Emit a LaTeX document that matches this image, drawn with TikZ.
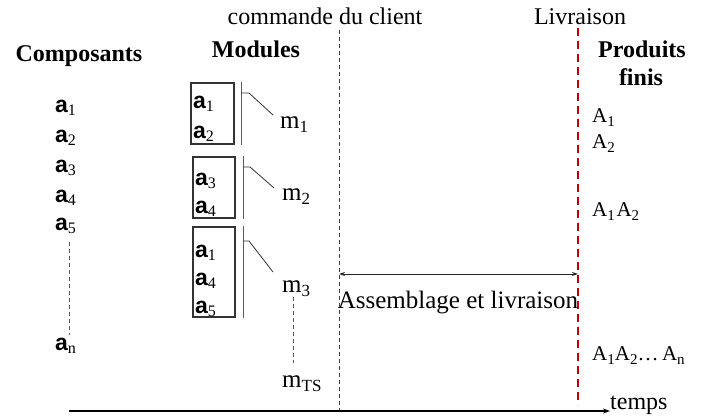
\documentclass[tikz,border=0pt]{standalone}
\usepackage{fontspec}
\setmainfont{Liberation Serif}
\setsansfont{Liberation Sans}
\usetikzlibrary{arrows.meta}

\newcommand{\compA}[1]{{\fontsize{23}{23}\selectfont\sffamily\bfseries a}\raisebox{-3.5pt}{\fontsize{16}{16}\selectfont\rmfamily\mdseries #1}}
\newcommand{\modM}[1]{{\fontsize{25}{25}\selectfont m}\raisebox{-4pt}{\fontsize{17}{17}\selectfont #1}}
\newcommand{\prodA}[1]{{\fontsize{21}{21}\selectfont A}\raisebox{-4pt}{\fontsize{15}{15}\selectfont #1}}

\begin{document}
\begin{tikzpicture}[x=1pt,y=-1pt,
  lbl/.style={inner sep=0pt, anchor=base west},
  ttl/.style={inner sep=0pt, anchor=base, font=\fontsize{24}{24}\selectfont},
  hd/.style={inner sep=0pt, anchor=base, font=\fontsize{24}{24}\selectfont\bfseries},
  modbox/.style={draw=black!80, line width=1.1pt, inner sep=0pt},
  vbar/.style={draw=black!65, line width=1.8pt},
  brk/.style={draw=black!80, line width=0.8pt},
  blackdash/.style={draw=black!75, line width=0.9pt, dash pattern=on 4pt off 3pt},
  reddash/.style={draw=red!75!black, line width=2.2pt, dash pattern=on 8pt off 5pt},
  thindash/.style={draw=black!65, line width=0.8pt, dash pattern=on 4pt off 3pt},
  dblarrow/.style={draw=black!85, line width=1pt, {Stealth[length=6pt,width=4pt]}-{Stealth[length=6pt,width=4pt]}},
  timearrow/.style={draw=black, line width=1.8pt, -{Stealth[length=7pt,width=5pt]}}
]
\useasboundingbox (0,0) rectangle (704,420);

% titles
\node[ttl] (cmd) at (325,25) {commande du client};
\node[ttl] (liv) at (580,25) {Livraison};
\node[hd] (comp) at (79,62) {Composants};
\node[hd] (mods) at (256,58) {Modules};
\node[hd] (prod) at (642,58) {Produits};
\node[hd] (finis) at (641,85) {finis};

% vertical time markers
\coordinate (cmdtop) at (339,30);
\coordinate (cmdbot) at (339,412);
\coordinate (livtop) at (578,28);
\coordinate (livbot) at (578,405);
\draw[blackdash] (cmdtop) -- (cmdbot);
\draw[reddash] (livtop) -- (livbot);

% components
\node[lbl] (a1) at (55,112) {\compA{1}};
\node[lbl] (a2) at (55,142) {\compA{2}};
\node[lbl] (a3) at (55,172) {\compA{3}};
\node[lbl] (a4) at (55,202) {\compA{4}};
\node[lbl] (a5) at (55,230) {\compA{5}};
\node[lbl] (an) at (55,350) {\compA{n}};
\coordinate (adtop) at (69,242);
\coordinate (adbot) at (69,335);
\draw[thindash] (adtop) -- (adbot);

% module boxes
\node[modbox, minimum width=43pt, minimum height=61pt] (b1) at (212.5,113.5) {};
\node[modbox, minimum width=42pt, minimum height=61pt] (b2) at (214,187.5) {};
\node[modbox, minimum width=42pt, minimum height=90pt] (b3) at (214,272) {};

\node[lbl] (b1a1) at (193,108) {\compA{1}};
\node[lbl] (b1a2) at (193,138) {\compA{2}};
\node[lbl] (b2a3) at (195,185) {\compA{3}};
\node[lbl] (b2a4) at (195,213) {\compA{4}};
\node[lbl] (b3a1) at (195,257) {\compA{1}};
\node[lbl] (b3a4) at (195,285) {\compA{4}};
\node[lbl] (b3a5) at (195,313) {\compA{5}};

\draw[vbar] ([xshift=7pt]b1.north east) -- ([xshift=7pt]b1.south east);
\draw[vbar] ([xshift=8pt]b2.north east) -- ([xshift=8pt]b2.south east);
\draw[vbar] ([xshift=8pt]b3.north east) -- ([xshift=8pt]b3.south east);

% module labels
\node[lbl] (m1) at (280,128) {\modM{1}};
\node[lbl] (m2) at (282,200) {\modM{2}};
\node[lbl] (m3) at (282,292) {\modM{3}};
\node[lbl] (mts) at (282,387) {\modM{TS}};

\draw[brk] (241,93) -- (249,93) -- (273,115);
\draw[brk] (243,167) -- (250,167) -- (274,188);
\draw[brk] (243,241) -- (249,241) -- (273,272);

\coordinate (mdtop) at (293,297);
\coordinate (mdbot) at (293,363);
\draw[thindash] (mdtop) -- (mdbot);

% assembly
\coordinate (asL) at (339,274);
\coordinate (asR) at (578,274);
\draw[dblarrow] (asL) -- (asR);
\node[ttl, font=\fontsize{25}{25}\selectfont] (asm) at (458,308) {Assemblage et livraison};

% finished products
\node[lbl] (p1) at (592,122) {\prodA{1}};
\node[lbl] (p2) at (592,148) {\prodA{2}};
\node[lbl] (p12) at (592,216) {\prodA{1}\,\prodA{2}};
\node[lbl] (pn) at (592,360) {\prodA{1}\prodA{2}{\fontsize{21}{21}\selectfont\dots\,}\prodA{n}};

% time axis
\node[lbl, font=\fontsize{24}{24}\selectfont] (temps) at (610,409) {temps};
\coordinate (axstart) at (69,411);
\draw[timearrow] (axstart) -- (axstart -| temps.west);
\end{tikzpicture}
\end{document}
